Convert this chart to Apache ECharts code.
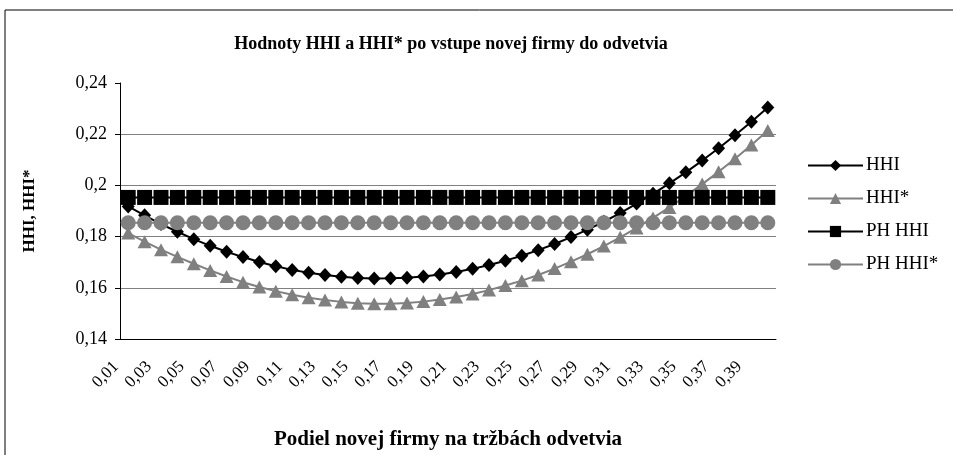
<!DOCTYPE html>
<html>
<head>
  <meta charset="UTF-8">
  <title>HHI</title>
  <script src="https://cdn.jsdelivr.net/npm/echarts@6/dist/echarts.min.js"></script>
  <style>
    html, body { margin: 0; padding: 0; background: #fff; }
    #chart { width: 953px; height: 455px; }
  </style>
</head>
<body>
  <div id="chart"></div>
  <script>
    // podiel novej firmy 0,01 .. 0,40
    const shares = ['0,01','0,02','0,03','0,04','0,05','0,06','0,07','0,08','0,09','0,10',
      '0,11','0,12','0,13','0,14','0,15','0,16','0,17','0,18','0,19','0,20',
      '0,21','0,22','0,23','0,24','0,25','0,26','0,27','0,28','0,29','0,30',
      '0,31','0,32','0,33','0,34','0,35','0,36','0,37','0,38','0,39','0,40']

    const hhi = [0.1918,0.1883,0.1849,0.1819,0.1790,0.1764,0.1741,0.1720,0.1701,0.1684,
      0.1670,0.1659,0.1650,0.1643,0.1638,0.1636,0.1637,0.1639,0.1644,0.1652,
      0.1662,0.1674,0.1689,0.1706,0.1725,0.1747,0.1771,0.1798,0.1827,0.1858,
      0.1892,0.1929,0.1967,0.2008,0.2051,0.2097,0.2145,0.2196,0.2249,0.2304]

    const hhiStar = [0.1814,0.1780,0.1749,0.1721,0.1694,0.1668,0.1644,0.1622,0.1603,0.1587,
      0.1573,0.1561,0.1552,0.1545,0.1540,0.1538,0.1538,0.1541,0.1546,0.1554,
      0.1564,0.1576,0.1591,0.1609,0.1628,0.1650,0.1675,0.1702,0.1731,0.1763,
      0.1797,0.1834,0.1873,0.1914,0.1958,0.2005,0.2053,0.2104,0.2158,0.2214]

    const phHhi = 0.1953
    const phHhiStar = 0.1854

    const yTicks = { min: 0.14, max: 0.24, step: 0.02 }

    const serif = '"Liberation Serif", "Times New Roman", serif'
    const chart = echarts.init(document.getElementById('chart'))

    const option = {
      animation: false,
      backgroundColor: '#fff',
      textStyle: { fontFamily: serif, color: '#000' },
      title: {
        text: 'Hodnoty HHI a HHI* po vstupe novej firmy do odvetvia',
        left: 446,
        top: 30,
        textAlign: 'center',
        textStyle: { fontFamily: serif, fontSize: 18, fontWeight: 'bold', color: '#000' }
      },
      graphic: [{
        type: 'rect',
        shape: { x: 5, y: 10, width: 1000, height: 500 },
        style: { fill: 'none', stroke: '#000', lineWidth: 1 },
        silent: true
      }],
      legend: {
        orient: 'vertical',
        left: 802,
        top: 151,
        itemWidth: 55,
        itemHeight: 14,
        itemGap: 14,
        textStyle: { fontFamily: serif, fontSize: 19, color: '#000', padding: [0, 0, 0, -2] },
        data: ['HHI', 'HHI*', 'PH HHI', 'PH HHI*']
      },
      grid: { left: 120, right: 177, top: 83, bottom: 112 },
      xAxis: {
        type: 'category',
        data: shares,
        boundaryGap: true,
        name: 'Podiel novej firmy na tržbách odvetvia',
        nameLocation: 'middle',
        nameGap: 90,
        nameTextStyle: { fontFamily: serif, fontSize: 21, fontWeight: 'bold', color: '#000' },
        axisLine: { lineStyle: { color: '#000', width: 1 } },
        axisTick: { alignWithLabel: false, interval: 0, length: 5, lineStyle: { color: '#000' } },
        axisLabel: {
          interval: 1, rotate: 45, margin: 13, padding: [0, 17, 0, 0],
          fontFamily: serif, fontSize: 17, color: '#000'
        },
        splitLine: { show: false }
      },
      yAxis: {
        type: 'value',
        min: yTicks.min,
        max: yTicks.max,
        interval: yTicks.step,
        name: 'HHI, HHI*',
        nameLocation: 'middle',
        nameGap: 82,
        nameTextStyle: { fontFamily: serif, fontSize: 17, fontWeight: 'bold', color: '#000' },
        axisLine: { show: true, lineStyle: { color: '#000', width: 1 } },
        axisTick: { show: true, length: 5, lineStyle: { color: '#000' } },
        axisLabel: {
          fontFamily: serif, fontSize: 18, color: '#000', margin: 13,
          formatter: v => String(Math.round(v * 100) / 100).replace('.', ',')
        },
        splitLine: {
          show: true,
          lineStyle: { color: ['#808080', '#808080', '#808080', '#808080', '#808080', 'transparent'], width: 1 }
        }
      },
      series: [
        {
          name: 'HHI', type: 'line', data: hhi, showAllSymbol: true,
          symbol: 'diamond', symbolSize: [13, 14],
          lineStyle: { color: '#000', width: 2 },
          itemStyle: { color: '#000' }
        },
        {
          name: 'HHI*', type: 'line', data: hhiStar, showAllSymbol: true,
          symbol: 'triangle', symbolSize: [14, 13],
          lineStyle: { color: '#808080', width: 2 },
          itemStyle: { color: '#808080' }
        },
        {
          name: 'PH HHI', type: 'line', data: shares.map(() => phHhi), showAllSymbol: true,
          symbol: 'rect', symbolSize: 15,
          lineStyle: { color: '#000', width: 2 },
          itemStyle: { color: '#000' }
        },
        {
          name: 'PH HHI*', type: 'line', data: shares.map(() => phHhiStar), showAllSymbol: true,
          symbol: 'circle', symbolSize: 15,
          lineStyle: { color: '#808080', width: 2 },
          itemStyle: { color: '#808080' }
        }
      ]
    }

    chart.setOption(option)
  </script>
</body>
</html>
